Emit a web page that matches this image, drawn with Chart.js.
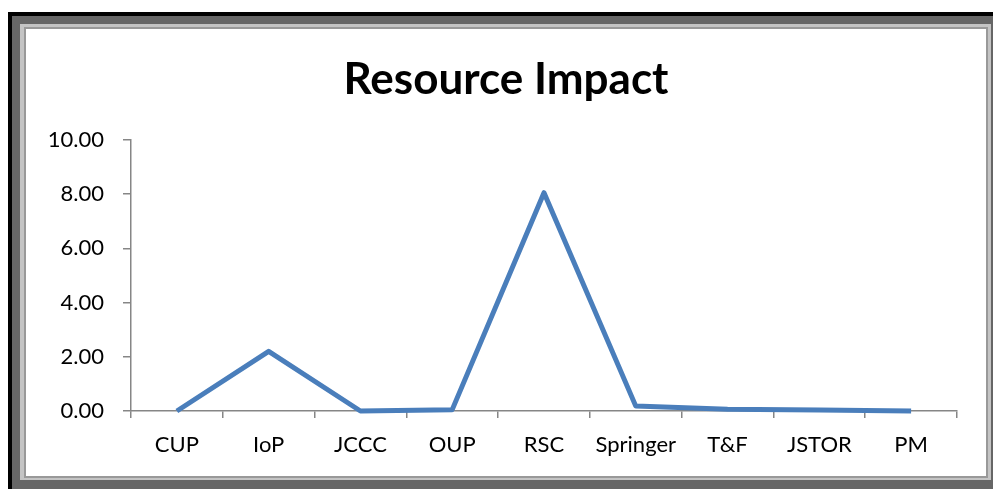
<!DOCTYPE html>
<html lang="en">
<head>
    <meta charset="UTF-8" />
    <title>Resource Impact</title>
    <script src="https://cdn.jsdelivr.net/npm/chart.js"></script>
    <style>
        html, body { margin: 0; padding: 0; background: #fff; }
        body { width: 993px; height: 489px; position: relative; overflow: hidden; }
        .frame { position: absolute; }
        #f1 { left: 8px; top: 12px; width: 985px; height: 477px; background: #000; }
        #f2 { left: 12px; top: 16px; width: 981px; height: 473px; background: #666; }
        #f3 { left: 20px; top: 24px; width: 971px; height: 456px; background: #c4c4c4; }
        #f4 { left: 24px; top: 27px; width: 960px; height: 447px; background: #fff; border: 2px solid #999; }
        #f4 canvas { display: block; }
    </style>
</head>
<body>
<div class="frame" id="f1"></div>
<div class="frame" id="f2"></div>
<div class="frame" id="f3"></div>
<div class="frame" id="f4"><canvas id="chart" width="960" height="447"></canvas></div>

<script>
    const publishers = ['CUP', 'IoP', 'JCCC', 'OUP', 'RSC', 'Springer', 'T&F', 'JSTOR', 'PM'];
    const impact = [0.0, 2.2, 0.0, 0.05, 8.05, 0.18, 0.06, 0.04, 0.0];
    const yTicks = [0, 2, 4, 6, 8, 10];

    const axisGrey = '#868686';
    const font = 'Lato, "Open Sans", sans-serif';

    const ctx = document.getElementById('chart').getContext('2d');
    new Chart(ctx, {
        type: 'line',
        data: {
            labels: publishers,
            datasets: [{
                label: 'Resource Impact',
                data: impact,
                borderColor: '#4a7ebb',
                borderWidth: 5,
                pointRadius: 0,
                tension: 0,
                fill: false,
                clip: false,
                borderJoinStyle: 'round'
            }]
        },
        options: {
            responsive: false,
            animation: false,
            layout: { padding: 0 },
            plugins: {
                legend: { display: false },
                tooltip: { enabled: false },
                title: {
                    display: true,
                    text: 'Resource Impact',
                    color: '#000',
                    font: { family: font, size: 44, weight: 'bold', lineHeight: 1.2 },
                    padding: { top: 24, bottom: 34 }
                }
            },
            scales: {
                x: {
                    offset: true,
                    grid: { display: true, drawOnChartArea: false, drawTicks: true, tickLength: 7, color: axisGrey, lineWidth: 1.5, offset: true },
                    border: { display: true, color: axisGrey, width: 1.5 },
                    ticks: { color: '#000', font: { family: font, size: 22 }, padding: 14, maxRotation: 0, autoSkip: false },
                    afterFit: s => { s.height = 65; }
                },
                y: {
                    min: 0,
                    max: 10,
                    afterBuildTicks: s => { s.ticks = yTicks.map(v => ({ value: v })); },
                    grid: { display: true, drawOnChartArea: false, drawTicks: true, tickLength: 8, color: axisGrey, lineWidth: 1.5 },
                    border: { display: true, color: axisGrey, width: 1.5 },
                    ticks: { color: '#000', font: { family: font, size: 22 }, padding: 19, callback: v => Number(v).toFixed(2) },
                    afterFit: s => { s.width = 105; }
                },
                // empty right gutter so the title stays centred on the whole canvas
                gutter: {
                    type: 'linear',
                    position: 'right',
                    display: true,
                    grid: { display: false },
                    border: { display: false },
                    ticks: { display: false },
                    afterFit: s => { s.width = 29; }
                }
            }
        }
    });
</script>
</body>
</html>
